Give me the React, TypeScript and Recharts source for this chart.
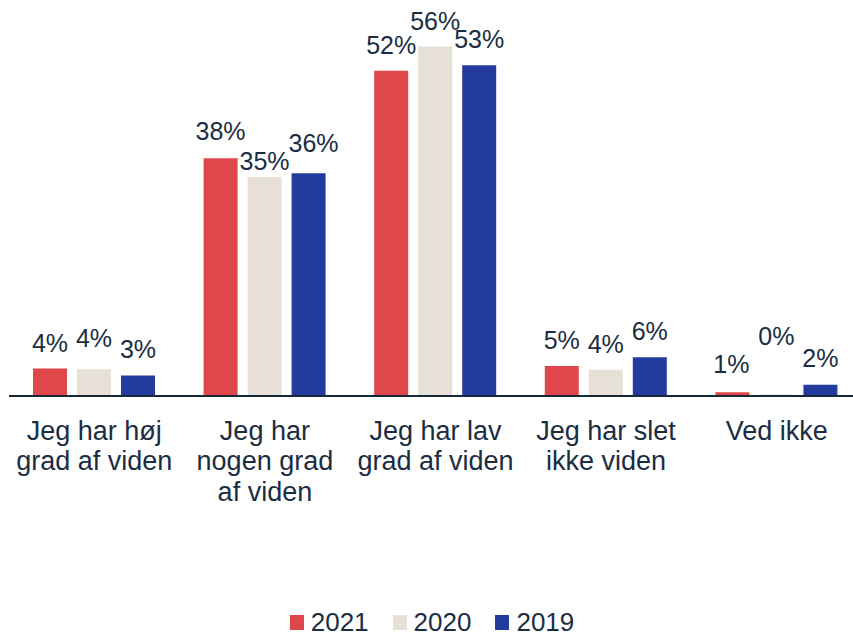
import React from 'react';
import { BarChart, Bar, XAxis, YAxis, LabelList, Legend } from 'recharts';

const categories = [
  'Jeg har høj grad af viden',
  'Jeg har nogen grad af viden',
  'Jeg har lav grad af viden',
  'Jeg har slet ikke viden',
  'Ved ikke',
];
const tickLabels = [
  ['Jeg har høj', 'grad af viden'],
  ['Jeg har', 'nogen grad', 'af viden'],
  ['Jeg har lav', 'grad af viden'],
  ['Jeg har slet', 'ikke viden'],
  ['Ved ikke'],
];
const values2021 = [4.4, 38.1, 52.1, 4.8, 0.6];
const values2020 = [4.3, 35.1, 56.0, 4.2, 0.3];
const values2019 = [3.3, 35.7, 53.0, 6.2, 1.8];

const FONT = '"Liberation Sans", Arial, sans-serif';
const TEXT = '#1a2d43';
const series = [
  { key: 'y2021', name: '2021', color: '#e0474a' },
  { key: 'y2020', name: '2020', color: '#e6e0d6' },
  { key: 'y2019', name: '2019', color: '#233b9d' },
];

// extra label lift / shift so close labels don't collide (like the original)
const labelLift: Record<string, number[]> = {
  y2021: [0, 1, 0, 0, 2],
  y2020: [5, -10, 0, 0, 32],
  y2019: [0, 4, 0, 0, 1],
};
const labelShift: Record<string, number[]> = {
  y2021: [0, 0, 0, 0, -1],
  y2020: [0, 0, 0, 0, 0],
  y2019: [0, 5, 0, 0, 0],
};

const data = categories.map((c, i) => ({
  category: c,
  y2021: values2021[i],
  y2020: values2020[i],
  y2019: values2019[i],
}));

const CategoryTick = (props: any) => {
  const { x, y, payload } = props;
  const lines = tickLabels[payload.index] || [payload.value];
  return (
    <text x={x} y={y} textAnchor="middle" fill={TEXT} fontSize={27} fontFamily={FONT}>
      {lines.map((l, i) => (
        <tspan key={i} x={x} dy={i === 0 ? 19.5 : 30.5}>{l}</tspan>
      ))}
    </text>
  );
};

const makeLabel = (key: string) => (props: any) => {
  const { x, y, width, value, index } = props;
  const cx = Number(x) + Number(width) / 2 + (labelShift[key][index] || 0);
  const ty = Number(y) - 17 - (labelLift[key][index] || 0);
  return (
    <text x={cx} y={ty} textAnchor="middle" fill={TEXT} fontSize={25} fontFamily={FONT}>
      {`${Math.round(Number(value))}%`}
    </text>
  );
};

const LegendContent = () => (
  <div style={{ display: 'flex', justifyContent: 'center', alignItems: 'center', fontFamily: FONT, fontSize: 26, color: TEXT, paddingLeft: 11 }}>
    {series.map((s, i) => (
      <div key={s.key} style={{ display: 'flex', alignItems: 'center', marginLeft: i === 0 ? 0 : 24 }}>
        <span style={{ width: 14, height: 15, background: s.color, display: 'inline-block', marginRight: 7 }} />
        <span>{s.name}</span>
      </div>
    ))}
  </div>
);

export default function App() {
  return (
    <div style={{ position: 'absolute', left: 0, top: 0, width: 853, height: 636, overflow: 'hidden', background: '#fff' }}>
      <BarChart
        width={862}
        height={636}
        data={data}
        margin={{ top: 46.5, right: 0, left: 9, bottom: 140 }}
        barCategoryGap={24}
        barGap={10}
      >
        <XAxis
          dataKey="category"
          height={100}
          axisLine={{ stroke: '#16283c', strokeWidth: 2 }}
          tickLine={false}
          tickSize={0}
          tickMargin={24}
          interval={0}
          tick={<CategoryTick />}
        />
        <YAxis hide domain={[0, 56]} />
        <Legend
          layout="horizontal"
          verticalAlign="middle"
          align="center"
          wrapperStyle={{ top: 607, left: 0, width: 853 }}
          content={<LegendContent />}
        />
        {series.map((s) => (
          <Bar key={s.key} dataKey={s.key} name={s.name} fill={s.color} isAnimationActive={false}>
            <LabelList dataKey={s.key} content={makeLabel(s.key)} />
          </Bar>
        ))}
      </BarChart>
    </div>
  );
}
